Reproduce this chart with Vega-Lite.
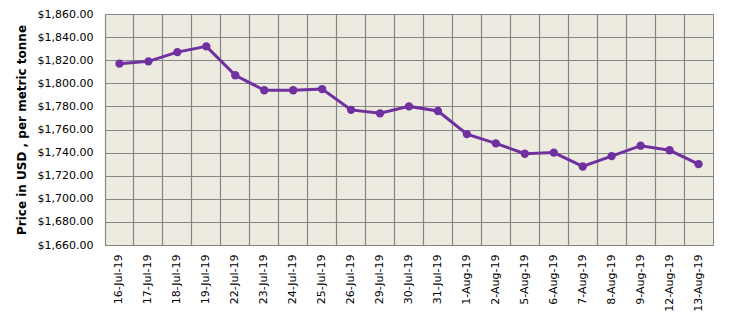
{
  "$schema": "https://vega.github.io/schema/vega-lite/v6.json",
  "width": 608,
  "height": 231,
  "autosize": {"type": "none"},
  "padding": {"left": 105, "top": 14, "right": 16, "bottom": 74},
  "background": "white",
  "config": {
    "view": {"fill": "#EDEAE0", "stroke": "#868686", "strokeWidth": 1},
    "font": "DejaVu Sans"
  },
  "data": {
    "values": [
      {"date": "16-Jul-19", "price": 1817},
      {"date": "17-Jul-19", "price": 1819},
      {"date": "18-Jul-19", "price": 1827},
      {"date": "19-Jul-19", "price": 1832},
      {"date": "22-Jul-19", "price": 1807},
      {"date": "23-Jul-19", "price": 1794},
      {"date": "24-Jul-19", "price": 1794},
      {"date": "25-Jul-19", "price": 1795},
      {"date": "26-Jul-19", "price": 1777},
      {"date": "29-Jul-19", "price": 1774},
      {"date": "30-Jul-19", "price": 1780},
      {"date": "31-Jul-19", "price": 1776},
      {"date": "1-Aug-19", "price": 1756},
      {"date": "2-Aug-19", "price": 1748},
      {"date": "5-Aug-19", "price": 1739},
      {"date": "6-Aug-19", "price": 1740},
      {"date": "7-Aug-19", "price": 1728},
      {"date": "8-Aug-19", "price": 1737},
      {"date": "9-Aug-19", "price": 1746},
      {"date": "12-Aug-19", "price": 1742},
      {"date": "13-Aug-19", "price": 1730}
    ]
  },
  "mark": {"type": "line", "color": "#7030A0", "strokeWidth": 3, "point": {"filled": true, "size": 70, "color": "#7030A0"}},
  "encoding": {
    "x": {
      "field": "date", "type": "nominal", "sort": null,
      "scale": {"type": "band", "paddingInner": 0, "paddingOuter": 0},
      "axis": {
        "title": null, "labelAngle": -90, "labelPadding": 9, "labelFontSize": 11, "labelColor": "#000",
        "ticks": false, "domain": false, "grid": true, "gridColor": "#868686", "gridWidth": 1.2, "gridOpacity": 1,
        "bandPosition": 0
      }
    },
    "y": {
      "field": "price", "type": "quantitative",
      "scale": {"domain": [1660, 1860], "nice": false, "zero": false},
      "axis": {
        "title": "Price in USD , per metric tonne", "titleFontSize": 12, "titleFontWeight": "bold", "titleColor": "#000",
        "titlePadding": 9,
        "values": [1660, 1680, 1700, 1720, 1740, 1760, 1780, 1800, 1820, 1840, 1860],
        "format": "$,.2f", "labelFontSize": 11, "labelColor": "#000", "labelPadding": 12,
        "ticks": false, "domain": false, "grid": true, "gridColor": "#868686", "gridWidth": 1.2, "gridOpacity": 1
      }
    }
  }
}
